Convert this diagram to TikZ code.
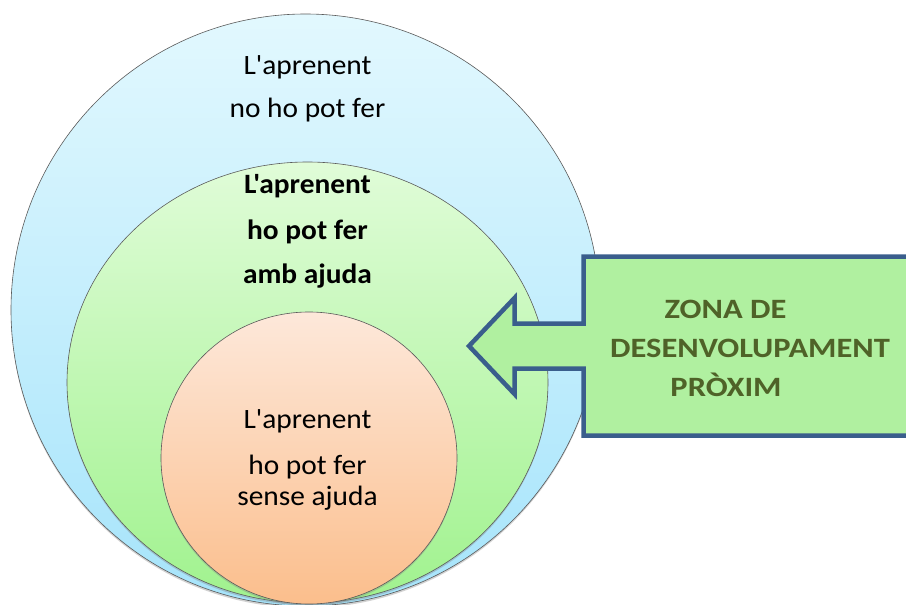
\documentclass[tikz,border=0pt]{standalone}
\usepackage{fontspec}
\usepackage{graphicx}
\setmainfont{Carlito}[Ligatures=TeXOff]
\usetikzlibrary{shapes.geometric,shadows}
\definecolor{outerTop}{RGB}{226,248,254}
\definecolor{outerBot}{RGB}{166,228,251}
\definecolor{midTop}{RGB}{224,252,216}
\definecolor{midBot}{RGB}{160,242,142}
\definecolor{inTop}{RGB}{253,232,218}
\definecolor{inBot}{RGB}{251,190,140}
\definecolor{boxFill}{RGB}{176,240,160}
\definecolor{boxLine}{RGB}{58,94,140}
\definecolor{boxText}{RGB}{79,98,40}
\definecolor{rimLine}{RGB}{90,90,90}
\newcommand{\wideA}[1]{\scalebox{1.05}[1]{#1}}
\newcommand{\wideB}[1]{\scalebox{1.16}[1]{#1}}
\tikzset{
  zone/.style={ellipse, inner sep=0pt, draw=rimLine, line width=0.6pt,
    drop shadow={opacity=0.35, shadow xshift=0pt, shadow yshift=-2pt}},
  lbl/.style={anchor=base, inner sep=0pt, font=\fontsize{28}{30}\selectfont},
  lblb/.style={lbl, font=\fontsize{28}{30}\selectfont\bfseries},
  boxlbl/.style={anchor=base, inner sep=0pt, text=boxText, font=\fontsize{28}{30}\selectfont\bfseries}
}
\begin{document}
\begin{tikzpicture}[x=1pt,y=-1pt]
\clip (0,0) rectangle (906,605);
\fill[white] (0,0) rectangle (906,605);
% ellipses
\node[zone, minimum width=589pt, minimum height=592pt, top color=outerTop, bottom color=outerBot] (outer) at (305.5,310) {};
\node[zone, minimum width=481pt, minimum height=441pt, top color=midTop, bottom color=midBot] (middle) at (307.5,382.5) {};
\node[zone, minimum width=296pt, minimum height=292pt, top color=inTop, bottom color=inBot] (inner) at (309,458) {};
% callout
\coordinate (tip) at (469,346);
\filldraw[fill=boxFill, draw=boxLine, line width=4.5pt, line join=miter]
  (583.5,256.5) -- (930,256.5) -- (930,435.5) -- (583.5,435.5) -- (583.5,368.5)
  -- (514.5,368.5) -- (514.5,394) -- (tip) -- (514.5,298) -- (514.5,323.5)
  -- (583.5,323.5) -- cycle;
% texts
\node[lbl] (t1a) at (307.5,74) {\wideA{L'aprenent}};
\node[lbl] (t1b) at (307.5,117) {\wideA{no ho pot fer}};
\node[lblb] (t2a) at (307.5,193) {\wideA{L'aprenent}};
\node[lblb] (t2b) at (307.5,239) {\wideA{ho pot fer}};
\node[lblb] (t2c) at (307.5,283) {\wideA{amb ajuda}};
\node[lbl] (t3a) at (307.5,428) {\wideA{L'aprenent}};
\node[lbl] (t3b) at (307.5,474) {\wideA{ho pot fer}};
\node[lbl] (t3c) at (307.5,505) {\wideA{sense ajuda}};
\node[boxlbl] (z1) at (725.5,318) {\wideB{ZONA DE}};
\node[boxlbl] (z2) at (750,357) {\wideB{DESENVOLUPAMENT}};
\node[boxlbl] (z3) at (726,396) {\wideB{PRÒXIM}};
\end{tikzpicture}
\end{document}
